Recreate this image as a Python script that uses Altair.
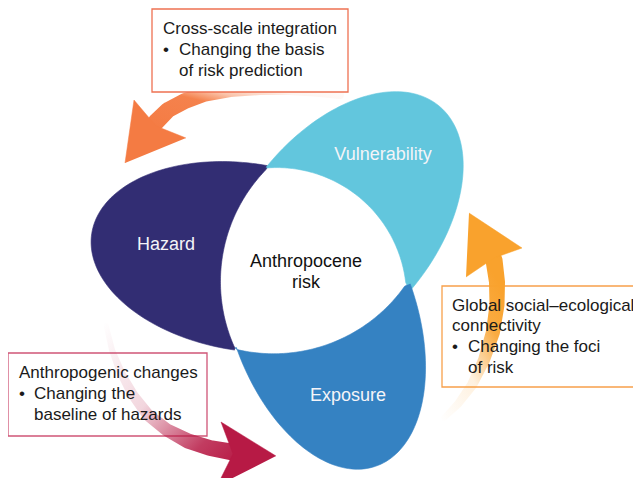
import altair as alt
import numpy as np
import pandas as pd

# ---------------- data (image pixel coordinates) ----------------
# triple points where the three petals meet
V1 = (267, 168)
V2 = (407, 285)
V3 = (235, 348)

# boundary points of the three ellipses (outer edges + hidden continuation)
hazard_x = [97, 123, 157, 207, 240, 266, 110, 140, 183, 235, 270, 303, 337, 370, 393, 407]
hazard_y = [240, 187, 168, 161, 163, 168, 290, 317, 338, 348, 355, 352, 340, 320, 300, 285]

vuln_x = [267, 300, 333, 383, 407, 437, 457, 463, 460, 443, 407, 240, 225, 220, 223, 235]
vuln_y = [168, 130, 108, 93, 92, 110, 137, 167, 213, 247, 285, 207, 243, 277, 310, 348]

expo_x = [407, 420, 425, 420, 403, 380, 353, 320, 287, 260, 240, 235, 267, 300, 333, 360, 383, 397]
expo_y = [285, 320, 370, 413, 447, 467, 470, 457, 430, 397, 357, 349, 168, 170, 180, 197, 223, 253]

# inner (white) boundary arcs
arc_hw_x = [267, 240, 225, 220, 223, 235]          # hazard / white
arc_hw_y = [168, 207, 243, 277, 310, 348]
arc_vw_x = [267, 300, 333, 360, 383, 397, 407]     # vulnerability / white
arc_vw_y = [168, 170, 180, 197, 223, 253, 285]
arc_ew_x = [235, 270, 303, 337, 370, 393, 407]     # exposure / white
arc_ew_y = [348, 355, 352, 340, 320, 300, 285]

petal_colors = ["#322D73", "#62C6DD", "#3582C2"]

# arrows: shaft centre lines, widths and heads
crim_x = [106, 112, 121, 133, 148, 167, 188, 210, 232]
crim_y = [325, 350, 373, 395, 415, 430, 441, 448, 452]
crim_w = [5, 6, 8, 10, 12, 13, 15, 16, 17]
crim_head_x = [276, 221, 233, 217]
crim_head_y = [456, 422, 454, 486]

top_x = [340, 315, 290, 260, 230, 205, 185, 168, 156]
top_y = [95, 92, 90, 89, 90, 94, 101, 110, 122]
top_w = [8, 9, 10, 12, 14, 15, 16, 16, 17]
top_head_x = [125, 134, 156, 186]
top_head_y = [163, 100, 126, 138]

yel_x = [444, 458, 472, 484, 493, 497, 497, 494]
yel_y = [418, 404, 385, 360, 332, 305, 282, 260]
yel_w = [6, 8, 10, 12, 14, 15, 16, 17]
yel_head_x = [469, 522, 494, 466]
yel_head_y = [213, 248, 258, 277]

arrow_colors = {"crim": (183, 26, 69), "top": (244, 123, 67), "yel": (249, 162, 45)}

# text boxes
box_x = [152, 442, 8]
box_x2 = [348, 662, 207]
box_y = [9, 286, 353]
box_y2 = [92, 387, 436]
box_stroke = ["#EE7152", "#F7A04B", "#CF5577"]

box_text = ["Cross-scale integration", "\u2022", "Changing the basis", "of risk prediction",
            "Global social\u2013ecological", "connectivity", "\u2022", "Changing the foci", "of risk",
            "Anthropogenic changes", "\u2022", "Changing the", "baseline of hazards"]
box_text_x = [163, 163, 179, 179, 452, 452, 452, 468, 468, 19, 19, 34, 34]
box_text_y = [29, 50, 50, 71, 306, 326, 347, 347, 368, 373, 394, 394, 415]

label_text = ["Vulnerability", "Hazard", "Exposure"]
label_x = [383, 166, 348]
label_y = [155, 245, 396]

center_text = ["Anthropocene", "risk"]
center_x = [306, 306]
center_y = [262, 283]

FONT = "Liberation Sans"

# ---------------- geometry helpers ----------------
def fit_ellipse(xs, ys):
    x = np.asarray(xs, float)
    y = np.asarray(ys, float)
    mx, my = x.mean(), y.mean()
    s = max(x.std(), y.std())
    xn, yn = (x - mx) / s, (y - my) / s
    D = np.column_stack([xn * xn, xn * yn, yn * yn, xn, yn, np.ones_like(xn)])
    _, _, Vt = np.linalg.svd(D)
    a, b, c, d, e, f = Vt[-1]
    A = np.array([[a, b / 2], [b / 2, c]])
    g = np.array([d, e])
    c0 = -0.5 * np.linalg.solve(A, g)
    k = -(f + 0.5 * g @ c0)
    w, V = np.linalg.eigh(A)
    ax = np.sqrt(np.abs(k / w))
    return dict(mx=mx, my=my, s=s, c0=c0, V=V, ax=ax)


def ell_point(E, t):
    t = np.atleast_1d(t)
    u = E["V"] @ np.vstack([E["ax"][0] * np.cos(t), E["ax"][1] * np.sin(t)])
    pn = E["c0"][:, None] + u
    return E["mx"] + E["s"] * pn[0], E["my"] + E["s"] * pn[1]


def ell_param(E, v):
    pn = (np.array(v, float) - np.array([E["mx"], E["my"]])) / E["s"] - E["c0"]
    q = E["V"].T @ pn
    return np.arctan2(q[1] / E["ax"][1], q[0] / E["ax"][0])


def arc(E, va, vb, via, n=100):
    ta, tb = ell_param(E, va), ell_param(E, vb)
    best = None
    for sgn in (1, -1):
        span = ((tb - ta) * sgn) % (2 * np.pi)
        ts = ta + sgn * span * np.linspace(0, 1, n)
        xs, ys = ell_point(E, ts)
        d = np.min((xs - via[0]) ** 2 + (ys - via[1]) ** 2)
        if best is None or d < best[0]:
            best = (d, xs, ys)
    return best[1], best[2]


def circle_arc(xs, ys, va, vb, n=80):
    x = np.asarray(xs, float)
    y = np.asarray(ys, float)
    M = np.column_stack([x, y, np.ones_like(x)])
    sol, *_ = np.linalg.lstsq(M, -(x * x + y * y), rcond=None)
    D, E, F = sol
    cx, cy = -D / 2, -E / 2
    r = np.sqrt(cx * cx + cy * cy - F)
    ta = np.arctan2(va[1] - cy, va[0] - cx)
    tb = np.arctan2(vb[1] - cy, vb[0] - cx)
    mid = (x[len(x) // 2], y[len(y) // 2])
    best = None
    for sgn in (1, -1):
        span = ((tb - ta) * sgn) % (2 * np.pi)
        ts = ta + sgn * span * np.linspace(0, 1, n)
        px, py = cx + r * np.cos(ts), cy + r * np.sin(ts)
        d = np.min((px - mid[0]) ** 2 + (py - mid[1]) ** 2)
        if best is None or d < best[0]:
            best = (d, px, py)
    px, py = best[1], best[2]
    px[0], py[0] = va
    px[-1], py[-1] = vb
    return px, py


EN = fit_ellipse(hazard_x, hazard_y)
EC = fit_ellipse(vuln_x, vuln_y)
EB = fit_ellipse(expo_x, expo_y)


def petal(E, va, vb, via, ax_, ay_, a_from, a_to):
    ox, oy = arc(E, va, vb, via)
    ix, iy = circle_arc(ax_, ay_, a_from, a_to)
    return np.concatenate([ox, ix]), np.concatenate([oy, iy])


shapes = [
    petal(EN, V3, V1, (96, 240), arc_hw_x, arc_hw_y, V1, V3),
    petal(EC, V1, V2, (463, 167), arc_vw_x, arc_vw_y, V2, V1),
    petal(EB, V2, V3, (353, 470), arc_ew_x, arc_ew_y, V3, V2),
]

XS = alt.Scale(domain=[8, 633])
YS = alt.Scale(domain=[8, 478], reverse=True)
X = lambda f="x": alt.X(f"{f}:Q", scale=XS, axis=None)
Y = lambda f="y": alt.Y(f"{f}:Q", scale=YS, axis=None)

layers = []
for (sx, sy), col in zip(shapes, petal_colors):
    df = pd.DataFrame({"x": sx, "y": sy, "o": np.arange(len(sx))})
    layers.append(
        alt.Chart(df).mark_line(fill=col, stroke=col, strokeWidth=0.6)
        .encode(x=X(), y=Y(), order="o:Q")
    )

boxes_df = pd.DataFrame({"x": box_x, "x2": box_x2, "y": box_y, "y2": box_y2, "c": box_stroke})
box_layer_lr = alt.Chart(boxes_df.iloc[1:]).mark_rect(fill="white", strokeWidth=1.3).encode(
    x=X(), x2="x2:Q", y=Y(), y2="y2:Q", stroke=alt.Stroke("c:N", scale=None)
)
box_layer_top = alt.Chart(boxes_df.iloc[:1]).mark_rect(fill="white", strokeWidth=1.3).encode(
    x=X(), x2="x2:Q", y=Y(), y2="y2:Q", stroke=alt.Stroke("c:N", scale=None)
)
layers.append(box_layer_lr)


def grad(rgb, x1, y1, x2, y2, stops):
    r, g, b = rgb
    return alt.LinearGradient(
        gradient="linear",
        stops=[alt.GradientStop(color=f"rgba({r},{g},{b},{a})", offset=o) for o, a in stops],
        x1=x1, y1=y1, x2=x2, y2=y2,
    )


def shaft(xs, ys, ws, gradient):
    df = pd.DataFrame({"x": xs, "y": ys, "w": ws, "o": np.arange(len(xs))})
    return alt.Chart(df).mark_trail(color=gradient).encode(
        x=X(), y=Y(), order="o:Q", size=alt.Size("w:Q", scale=None, legend=None)
    )


def head(xs, ys, rgb):
    col = "#%02X%02X%02X" % rgb
    df = pd.DataFrame({"x": xs, "y": ys, "o": np.arange(len(xs))})
    return alt.Chart(df).mark_line(fill=col, stroke=col, strokeWidth=0.5).encode(
        x=X(), y=Y(), order="o:Q"
    )


layers.append(shaft(crim_x, crim_y, crim_w,
                    grad(arrow_colors["crim"], 0, 0, 1, 1, [(0, 0.0), (0.45, 0.18), (0.8, 0.85), (1, 1)])))
layers.append(shaft(yel_x, yel_y, yel_w,
                    grad(arrow_colors["yel"], 0, 1, 0.6, 0, [(0, 0.0), (0.4, 0.15), (0.75, 0.9), (1, 1)])))
layers.append(shaft(top_x, top_y, top_w,
                    grad(arrow_colors["top"], 1, 0, 0, 1, [(0, 0.0), (0.25, 0.08), (0.42, 0.45), (0.55, 0.95), (1, 1)])))
layers.append(box_layer_top)
layers.append(head(crim_head_x, crim_head_y, arrow_colors["crim"]))
layers.append(head(yel_head_x, yel_head_y, arrow_colors["yel"]))
layers.append(head(top_head_x, top_head_y, arrow_colors["top"]))

bt = pd.DataFrame({"t": box_text, "x": box_text_x, "y": box_text_y})
layers.append(
    alt.Chart(bt).mark_text(align="left", baseline="middle", font=FONT, fontSize=17, color="#1A1A1A")
    .encode(x=X(), y=Y(), text="t:N")
)
lt = pd.DataFrame({"t": label_text, "x": label_x, "y": label_y})
layers.append(
    alt.Chart(lt).mark_text(align="center", baseline="middle", font=FONT, fontSize=18, color="#F4F4F8")
    .encode(x=X(), y=Y(), text="t:N")
)
ct = pd.DataFrame({"t": center_text, "x": center_x, "y": center_y})
layers.append(
    alt.Chart(ct).mark_text(align="center", baseline="middle", font=FONT, fontSize=18, color="#111111")
    .encode(x=X(), y=Y(), text="t:N")
)

chart = (
    alt.layer(*layers)
    .properties(width=625, height=470, padding=0, autosize=alt.AutoSizeParams(type="none"))
    .configure_view(stroke=None)
)

chart.save("out.html", embed_options={"renderer": "svg", "actions": False})
